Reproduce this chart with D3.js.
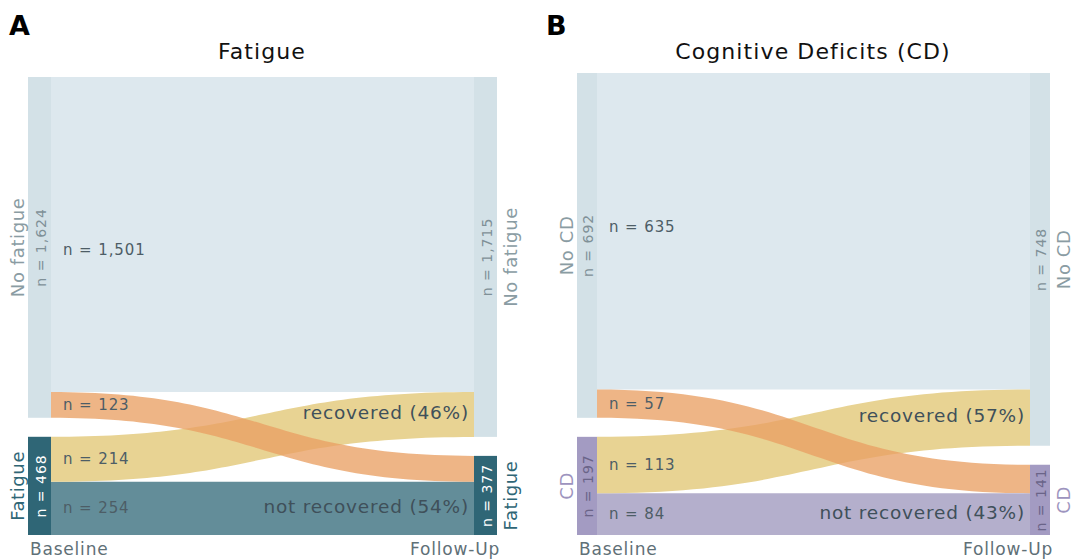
<!DOCTYPE html>
<html>
<head>
<meta charset="utf-8">
<script src="https://cdn.jsdelivr.net/npm/d3@7"></script>
<style>
  body { margin: 0; background: #fff; }
  text { font-family: "DejaVu Sans", Verdana, sans-serif; }
</style>
</head>
<body>
<div id="chart"></div>
<script>
// data
const panelLetters = ["A", "B"];
const panelTitles = ["Fatigue", "Cognitive Deficits (CD)"];
const fatigueCategories = ["No fatigue", "Fatigue"];
const cdCategories = ["No CD", "CD"];
const timepoints = ["Baseline", "Follow-Up"];
// links: source (baseline) -> target (follow-up)
const linkSource = [0, 0, 1, 1];
const linkTarget = [0, 1, 0, 1];
const fatigueValues = [1501, 123, 214, 254];
const cdValues = [635, 57, 113, 84];
const linkOutcome = [null, null, "recovered", "not recovered"];

const width = 1073, height = 560;

// layout per panel
const panels = [
  {letter: panelLetters[0], title: panelTitles[0], cats: fatigueCategories, values: fatigueValues,
   left: 28, right: 474, nodeW: 23, top: 77, bottom: 535, gap: 19, titleX: 262, letterX: 9,
   dark: "#2f6676", darkLink: "#638d99", darkLabel: "#2f6676", darkNodeText: "#ffffff", firstDy: 16},
  {letter: panelLetters[1], title: panelTitles[1], cats: cdCategories, values: cdValues,
   left: 577, right: 1030, nodeW: 20, top: 73, bottom: 535, gap: 19, titleX: 813, letterX: 546,
   dark: "#a39bc2", darkLink: "#b4afcc", darkLabel: "#9d94be", darkNodeText: "#6a6488", firstDy: -4}
];

const lightNode = "#d3e1e7", lightLink = "#dde8ee", lightLabel = "#8a9ca3";
const crossColors = {up: "#e8d393", down: "#e9a064"};

let svg = d3.select("#chart").append("svg")
  .attr("width", width)
  .attr("height", height);

panels.forEach(function(p) {
  let g = svg.append("g");
  let total = d3.sum(p.values);

  // value -> pixel height
  let k = d3.scaleLinear().domain([0, total]).range([0, p.bottom - p.top - p.gap]);

  let links = p.values.map(function(v, i) {
    return {value: v, s: linkSource[i], t: linkTarget[i], outcome: linkOutcome[i], i: i};
  });

  function nodeStack(key) {
    let sums = [0, 1].map(function(c) {
      return d3.sum(links.filter(function(l) { return l[key] === c; }), function(l) { return l.value; });
    });
    let y = p.top;
    return sums.map(function(s, c) {
      let n = {cat: c, value: s, y0: y, y1: y + k(s)};
      y = n.y1 + p.gap;
      return n;
    });
  }
  let srcNodes = nodeStack("s");
  let tgtNodes = nodeStack("t");

  // stack links within nodes
  let srcOff = srcNodes.map(function(n) { return n.y0; });
  links.slice().sort(function(a, b) { return a.s - b.s || a.t - b.t; }).forEach(function(l) {
    l.sy0 = srcOff[l.s]; l.sy1 = l.sy0 + k(l.value); srcOff[l.s] = l.sy1;
  });
  let tgtOff = tgtNodes.map(function(n) { return n.y0; });
  links.slice().sort(function(a, b) { return a.t - b.t || a.s - b.s; }).forEach(function(l) {
    l.ty0 = tgtOff[l.t]; l.ty1 = l.ty0 + k(l.value); tgtOff[l.t] = l.ty1;
  });

  let sx = p.left + p.nodeW, tx = p.right, mx = (sx + tx) / 2;
  function linkPath(l) {
    return `M${sx},${l.sy0} C${mx},${l.sy0} ${mx},${l.ty0} ${tx},${l.ty0}` +
      ` L${tx},${l.ty1} C${mx},${l.ty1} ${mx},${l.sy1} ${sx},${l.sy1} Z`;
  }
  function linkColor(l) {
    if (l.s === 0 && l.t === 0) return lightLink;
    if (l.s === 1 && l.t === 1) return p.darkLink;
    return l.s === 1 ? crossColors.up : crossColors.down;
  }

  // draw order: stays, then recovered, then worsened on top
  let order = [0, 3, 2, 1];
  g.selectAll("path.link")
    .data(order.map(function(i) { return links[i]; }))
    .enter().append("path")
    .attr("class", "link")
    .attr("d", linkPath)
    .attr("fill", linkColor)
    .attr("fill-opacity", function(l) { return (l.s === 0 && l.t === 1) ? 0.78 : 1; });

  // nodes
  function drawNodes(nodes, x) {
    g.selectAll(null).data(nodes).enter().append("rect")
      .attr("x", x).attr("y", function(n) { return n.y0; })
      .attr("width", p.nodeW).attr("height", function(n) { return n.y1 - n.y0; })
      .attr("fill", function(n) { return n.cat === 0 ? lightNode : p.dark; });

    g.selectAll(null).data(nodes).enter().append("text")
      .attr("transform", function(n) { return `translate(${x + p.nodeW / 2 + 1},${(n.y0 + n.y1) / 2}) rotate(-90)`; })
      .attr("text-anchor", "middle")
      .attr("dominant-baseline", "central")
      .style("font-size", "14px").style("letter-spacing", "1px")
      .attr("fill", function(n) { return n.cat === 0 ? "#7f9097" : p.darkNodeText; })
      .text(function(n) { return "n = " + d3.format(",")(n.value); });
  }
  drawNodes(srcNodes, p.left);
  drawNodes(tgtNodes, p.right);

  // category labels outside nodes
  function catLabels(nodes, x) {
    g.selectAll(null).data(nodes).enter().append("text")
      .attr("transform", function(n) { return `translate(${x},${(n.y0 + n.y1) / 2}) rotate(-90)`; })
      .attr("text-anchor", "middle")
      .attr("dominant-baseline", "central")
      .style("font-size", "18px").style("letter-spacing", "0.6px")
      .attr("fill", function(n) { return n.cat === 0 ? lightLabel : p.darkLabel; })
      .text(function(n) { return p.cats[n.cat]; });
  }
  catLabels(srcNodes, p.left - 11);
  catLabels(tgtNodes, p.right + p.nodeW + 13);

  // link count labels at source side
  g.selectAll(null).data(links).enter().append("text")
    .attr("x", sx + 12)
    .attr("y", function(l) { return (l.sy0 + l.sy1) / 2 + (l.i === 0 ? p.firstDy : 0); })
    .attr("dominant-baseline", "central")
    .style("font-size", "15px").style("letter-spacing", "0.9px")
    .attr("fill", "#4d5d66")
    .text(function(l) { return "n = " + d3.format(",")(l.value); });

  // outcome labels at target side
  g.selectAll(null).data(links.filter(function(l) { return l.outcome; })).enter().append("text")
    .attr("x", tx - 5)
    .attr("y", function(l) { return (l.ty0 + l.ty1) / 2 - 2; })
    .attr("text-anchor", "end")
    .attr("dominant-baseline", "central")
    .style("font-size", "18.5px").style("letter-spacing", "0.8px")
    .attr("fill", "#3f505a")
    .text(function(l) {
      return l.outcome + " (" + Math.round(100 * l.value / srcNodes[l.s].value) + "%)";
    });

  // timepoint labels
  g.append("text")
    .attr("x", p.left + 2).attr("y", 555)
    .style("font-size", "17px").style("letter-spacing", "0.8px").attr("fill", "#5f7077")
    .text(timepoints[0]);
  g.append("text")
    .attr("x", p.right + p.nodeW + 3).attr("y", 555)
    .attr("text-anchor", "end")
    .style("font-size", "17px").style("letter-spacing", "0.8px").attr("fill", "#5f7077")
    .text(timepoints[1]);

  // title and panel letter
  g.append("text")
    .attr("x", p.titleX).attr("y", 59)
    .attr("text-anchor", "middle")
    .style("font-size", "22px").style("letter-spacing", "1.1px").attr("fill", "#111")
    .text(p.title);
  g.append("text")
    .attr("x", p.letterX).attr("y", 35)
    .style("font-size", "27px").style("font-weight", "bold").attr("fill", "#000")
    .text(p.letter);
});
</script>
</body>
</html>
